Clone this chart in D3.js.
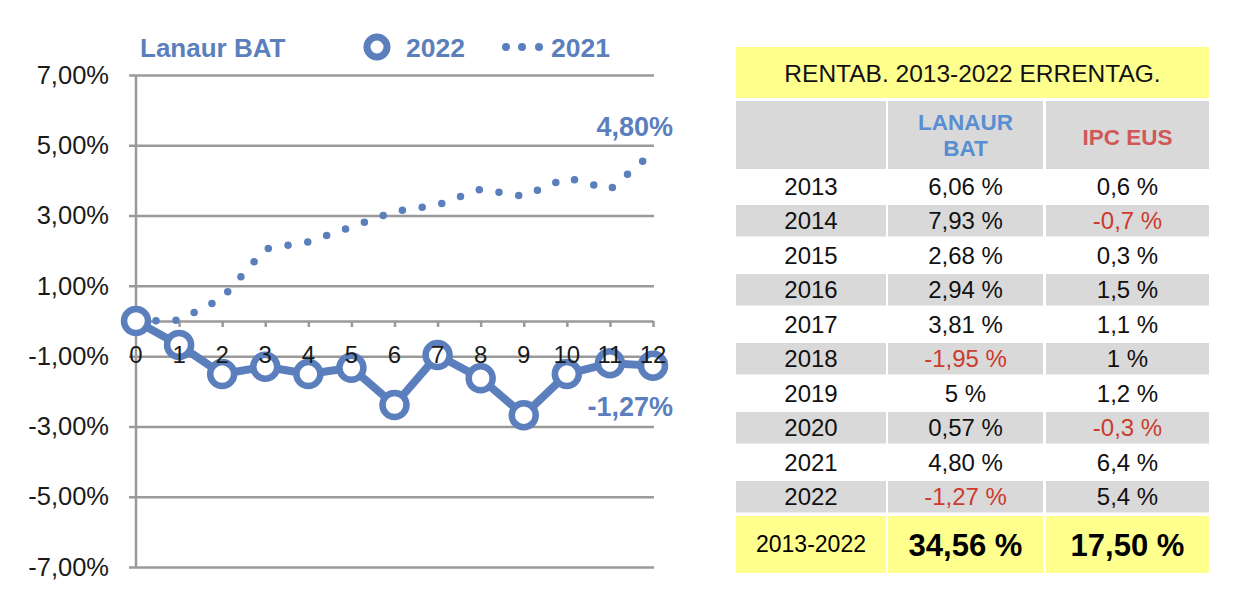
<!DOCTYPE html>
<html lang="eu">
<head>
<meta charset="UTF-8">
<title>Lanaur BAT</title>
<style>
	body { margin: 0; background: #fff; }
	svg { display: block; font-family: "Liberation Sans", Arial, Helvetica, sans-serif; }
</style>
</head>
<body>
<script src="https://d3js.org/d3.v7.min.js"></script>
<script>
	// datuak
	let months = [0, 1, 2, 3, 4, 5, 6, 7, 8, 9, 10, 11, 12];
	let serie2022 = [0, -0.68, -1.51, -1.30, -1.51, -1.33, -2.39, -0.97, -1.63, -2.68, -1.51, -1.20, -1.27];
	let serie2021 = [0, 0.02, 0.65, 2.05, 2.25, 2.68, 3.12, 3.30, 3.75, 3.55, 4.08, 3.74, 4.80];
	let yTicks = [7, 5, 3, 1, -1, -3, -5, -7];

	let years = ['2013', '2014', '2015', '2016', '2017', '2018', '2019', '2020', '2021', '2022'];
	let lanaur = ['6,06 %', '7,93 %', '2,68 %', '2,94 %', '3,81 %', '-1,95 %', '5 %', '0,57 %', '4,80 %', '-1,27 %'];
	let ipc = ['0,6 %', '-0,7 %', '0,3 %', '1,5 %', '1,1 %', '1 %', '1,2 %', '-0,3 %', '6,4 %', '5,4 %'];
	let totals = ['2013-2022', '34,56 %', '17,50 %'];

	let blue = '#5b7fbd';
	let width = 1240, height = 616;

	let svg = d3.select('body').append('svg')
			.attr('width', width)
			.attr('height', height);

	let xScale = d3.scaleLinear().domain([0, 12]).range([136, 653]);
	let yScale = d3.scaleLinear().domain([-7, 7]).range([567, 75]);
	let fmt = function(d) { return d.toFixed(2).replace('.', ',') + '%'; };

	// Y ardatza + sareta
	let gy = svg.append('g')
			.attr('transform', 'translate(136,0)')
			.call(d3.axisLeft(yScale).tickValues(yTicks).tickSizeInner(-518).tickSizeOuter(0).tickPadding(27).tickFormat(fmt));
	gy.select('.domain').remove();
	gy.selectAll('.tick line').attr('x1', -7).attr('stroke', '#9a9a9a').attr('stroke-width', 2.5);
	gy.selectAll('.tick text').attr('font-size', 25.5).attr('fill', '#1a1a1a')
			.attr('font-family', '"Liberation Sans", Arial, sans-serif');

	svg.append('line')
			.attr('x1', 136).attr('x2', 136)
			.attr('y1', yScale(7)).attr('y2', yScale(-7))
			.attr('stroke', '#9a9a9a').attr('stroke-width', 2.5);

	// X ardatza
	let gx = svg.append('g')
			.attr('transform', 'translate(0,' + yScale(0) + ')')
			.call(d3.axisBottom(xScale).tickValues(months).tickSizeInner(6).tickSizeOuter(0).tickPadding(19));
	gx.select('.domain').attr('stroke', '#9a9a9a').attr('stroke-width', 2.5);
	gx.selectAll('.tick line').attr('stroke', '#9a9a9a').attr('stroke-width', 2.5);
	gx.selectAll('.tick text').remove();

	let line = d3.line()
			.x(function(d, i) { return xScale(months[i]); })
			.y(function(d) { return yScale(d); });

	// 2021 puntukatua
	svg.append('path')
			.attr('d', line(serie2021))
			.attr('fill', 'none')
			.attr('stroke', blue)
			.attr('stroke-width', 7.5)
			.attr('stroke-linecap', 'round')
			.attr('stroke-dasharray', '0 20');

	// 2022
	svg.append('path')
			.attr('d', line(serie2022))
			.attr('fill', 'none')
			.attr('stroke', blue)
			.attr('stroke-width', 8)
			.attr('stroke-linejoin', 'round');

	svg.append('g')
			.selectAll('circle')
			.data(serie2022)
			.enter()
			.append('circle')
			.attr('cx', function(d, i) { return xScale(months[i]); })
			.attr('cy', function(d) { return yScale(d); })
			.attr('r', 12)
			.attr('fill', '#fff')
			.attr('stroke', blue)
			.attr('stroke-width', 6.5);

	// x etiketak gainean
	svg.append('g')
			.selectAll('text')
			.data(months)
			.enter()
			.append('text')
			.attr('x', function(d) { return xScale(d); })
			.attr('y', yScale(0) + 42)
			.attr('text-anchor', 'middle')
			.attr('font-size', 24)
			.attr('fill', '#1a1a1a')
			.text(function(d) { return d; });

	// balio etiketak
	svg.append('text')
			.attr('x', 673).attr('y', yScale(serie2021[12]) - 16)
			.attr('text-anchor', 'end')
			.attr('font-size', 27).attr('font-weight', 'bold').attr('fill', blue)
			.text(fmt(serie2021[12]));
	svg.append('text')
			.attr('x', 673).attr('y', yScale(serie2022[12]) + 50)
			.attr('text-anchor', 'end')
			.attr('font-size', 27).attr('font-weight', 'bold').attr('fill', blue)
			.text(fmt(serie2022[12]));

	// legenda
	let leg = svg.append('g');
	leg.append('text').attr('x', 140).attr('y', 57)
			.attr('font-size', 26).attr('font-weight', 'bold').attr('fill', blue)
			.text('Lanaur BAT');
	leg.append('circle').attr('cx', 377).attr('cy', 47).attr('r', 10)
			.attr('fill', '#fff').attr('stroke', blue).attr('stroke-width', 7);
	leg.append('text').attr('x', 406).attr('y', 57)
			.attr('font-size', 26.5).attr('font-weight', 'bold').attr('fill', blue)
			.text('2022');
	leg.selectAll('.ldot').data([506, 522, 539]).enter().append('circle')
			.attr('cx', function(d) { return d; }).attr('cy', 47).attr('r', 4)
			.attr('fill', blue);
	leg.append('text').attr('x', 551).attr('y', 57)
			.attr('font-size', 26.5).attr('font-weight', 'bold').attr('fill', blue)
			.text('2021');

	// taula
	let cols = [[736, 886], [888, 1043], [1046, 1209]];
	let yellow = '#ffff8e', grey = '#d9d9d9', red = '#cc3b2c';
	let tbl = svg.append('g');

	tbl.append('rect').attr('x', 736).attr('y', 47).attr('width', 473).attr('height', 51).attr('fill', yellow);
	tbl.append('text').attr('x', 972.5).attr('y', 82).attr('text-anchor', 'middle')
			.attr('font-size', 24.5).attr('fill', '#111')
			.text('RENTAB. 2013-2022 ERRENTAG.');

	cols.forEach(function(c) {
		tbl.append('rect').attr('x', c[0]).attr('y', 101).attr('width', c[1] - c[0]).attr('height', 68).attr('fill', grey);
	});
	let midX = function(c) { return (c[0] + c[1]) / 2; };
	let hdr = tbl.append('text').attr('x', midX(cols[1])).attr('text-anchor', 'middle')
			.attr('font-size', 22.5).attr('font-weight', 'bold').attr('fill', '#5a8ed2');
	hdr.append('tspan').attr('x', midX(cols[1])).attr('y', 130).text('LANAUR');
	hdr.append('tspan').attr('x', midX(cols[1])).attr('y', 156).text('BAT');
	tbl.append('text').attr('x', midX(cols[2])).attr('y', 145).attr('text-anchor', 'middle')
			.attr('font-size', 22.5).attr('font-weight', 'bold').attr('fill', '#d05858')
			.text('IPC EUS');

	let rowScale = d3.scaleBand().domain(years).range([169, 514]);
	let rows = tbl.selectAll('.row').data(years).enter().append('g')
			.attr('transform', function(d) { return 'translate(0,' + rowScale(d) + ')'; });
	rows.each(function(d, i) {
		let g = d3.select(this);
		if (i % 2 === 1) {
			cols.forEach(function(c) {
				g.append('rect').attr('x', c[0]).attr('y', 1.5).attr('width', c[1] - c[0])
						.attr('height', rowScale.bandwidth() - 3).attr('fill', grey);
			});
		}
		[d, lanaur[i], ipc[i]].forEach(function(t, j) {
			g.append('text').attr('x', midX(cols[j])).attr('y', rowScale.bandwidth() / 2 + 8.5)
					.attr('text-anchor', 'middle').attr('font-size', 24)
					.attr('fill', t.charAt(0) === '-' ? red : '#111')
					.text(t);
		});
	});

	cols.forEach(function(c, j) {
		tbl.append('rect').attr('x', c[0]).attr('y', 516).attr('width', c[1] - c[0]).attr('height', 57).attr('fill', yellow);
		tbl.append('text').attr('x', midX(c)).attr('y', j === 0 ? 552 : 556)
				.attr('text-anchor', 'middle')
				.attr('font-size', j === 0 ? 23 : 31)
				.attr('font-weight', j === 0 ? 'normal' : 'bold')
				.attr('fill', '#000')
				.text(totals[j]);
	});
</script>
</body>
</html>
